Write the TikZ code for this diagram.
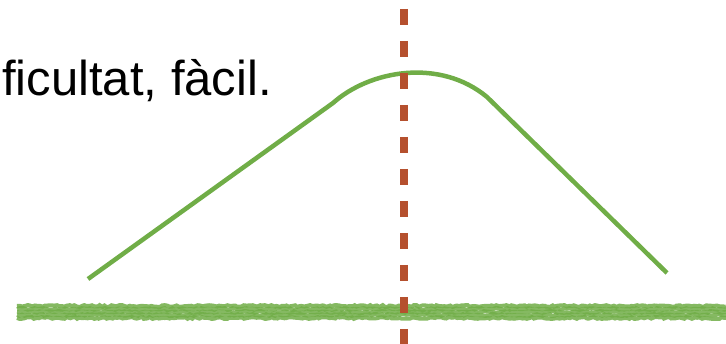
\documentclass[tikz,border=0pt]{standalone}
\usepackage{fontspec}
\setmainfont{Liberation Sans}
\usetikzlibrary{decorations.pathmorphing}

\definecolor{curvegreen}{RGB}{112,173,71}
\definecolor{axisred}{RGB}{181,80,46}

\begin{document}
\begin{tikzpicture}[x=1pt, y=-1pt,
	curve/.style={curvegreen, line width=4.5pt, line join=round},
	pencil/.style={curvegreen, line width=4pt, opacity=0.85, decorate, decoration={random steps, segment length=2.5pt, amplitude=0.9pt}},
	midline/.style={axisred, line width=7.5pt, dash pattern=on 16pt off 16pt, dash phase=-9pt}]
	\useasboundingbox (0,0) rectangle (726,344);
	\pgfmathsetseed{7}
	\node[anchor=base west, inner sep=0pt, font=\fontsize{49}{54}\selectfont] (lbl) at (2,96) {ficultat, fàcil.};
	% rough baseline
	\foreach \dy in {-6,-3,...,6}
		\draw[pencil] (17,312+\dy) -- (726,312+\dy);
	% the hump
	\coordinate (lo) at (88,279);
	\coordinate (ro) at (667,273);
	\draw[curve] (lo) -- (333,103) .. controls (370,70) and (440,58) .. (487,97) -- (ro);
	% the axis of symmetry
	\draw[midline] (404,0) -- (404,344);
\end{tikzpicture}
\end{document}
